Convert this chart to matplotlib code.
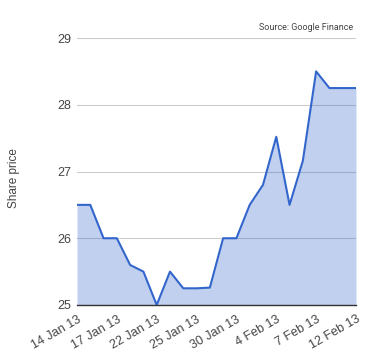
import matplotlib
matplotlib.use("Agg")
import matplotlib.pyplot as plt

# trading days, 14 Jan 13 .. 12 Feb 13
dates = ["14 Jan 13", "15 Jan 13", "16 Jan 13", "17 Jan 13", "18 Jan 13",
         "21 Jan 13", "22 Jan 13", "23 Jan 13", "24 Jan 13", "25 Jan 13",
         "28 Jan 13", "29 Jan 13", "30 Jan 13", "31 Jan 13", "1 Feb 13",
         "4 Feb 13", "5 Feb 13", "6 Feb 13", "7 Feb 13", "8 Feb 13",
         "11 Feb 13", "12 Feb 13"]
prices = [26.5, 26.5, 26.0, 26.0, 25.6, 25.5, 25.0, 25.5, 25.25, 25.25,
          25.26, 26.0, 26.0, 26.5, 26.8, 27.52, 26.5, 27.16, 28.5, 28.25,
          28.25, 28.25]
y_ticks = [25, 26, 27, 28, 29]

LINE = "#3366cc"
TEXT = "#444444"

plt.rcParams["font.family"] = ["Liberation Sans", "DejaVu Sans"]

fig = plt.figure(figsize=(3.8, 3.6), dpi=100)
ax = fig.add_axes([0.2026, 0.1528, 0.7342, 0.7416])

x = list(range(len(dates)))
ax.fill_between(x, prices, 25, color=LINE, alpha=0.3, linewidth=0, zorder=2)
ax.plot(x, prices, color=LINE, linewidth=1.5, zorder=3)

ax.set_xlim(0, len(dates) - 1)
ax.set_ylim(25, 29)
ax.set_yticks(y_ticks)
ax.set_yticklabels([str(v) for v in y_ticks])
shown = list(range(0, len(dates), 3))
ax.set_xticks(shown)
ax.set_xticklabels([dates[i] for i in shown], rotation=30, ha="right",
                   rotation_mode="anchor")

ax.grid(axis="y", color="#cccccc", linewidth=0.8, zorder=1)
ax.set_axisbelow(True)
for side in ["top", "right", "left"]:
    ax.spines[side].set_visible(False)
ax.spines["bottom"].set_color("#333333")
ax.spines["bottom"].set_linewidth(1.0)
ax.spines["bottom"].set_zorder(4)
ax.tick_params(axis="both", length=0, labelsize=9, colors=TEXT, pad=4)
ax.tick_params(axis="x", pad=6)

ax.set_ylabel("Share price", fontsize=8.5, color=TEXT)
ax.yaxis.set_label_coords(-0.204, 0.476)
fig.text(0.93, 0.925, "Source: Google Finance", ha="right", va="center",
         fontsize=6.5, color=TEXT, family=["Roboto", "DejaVu Sans"])

fig.savefig("out.png", dpi=100)
